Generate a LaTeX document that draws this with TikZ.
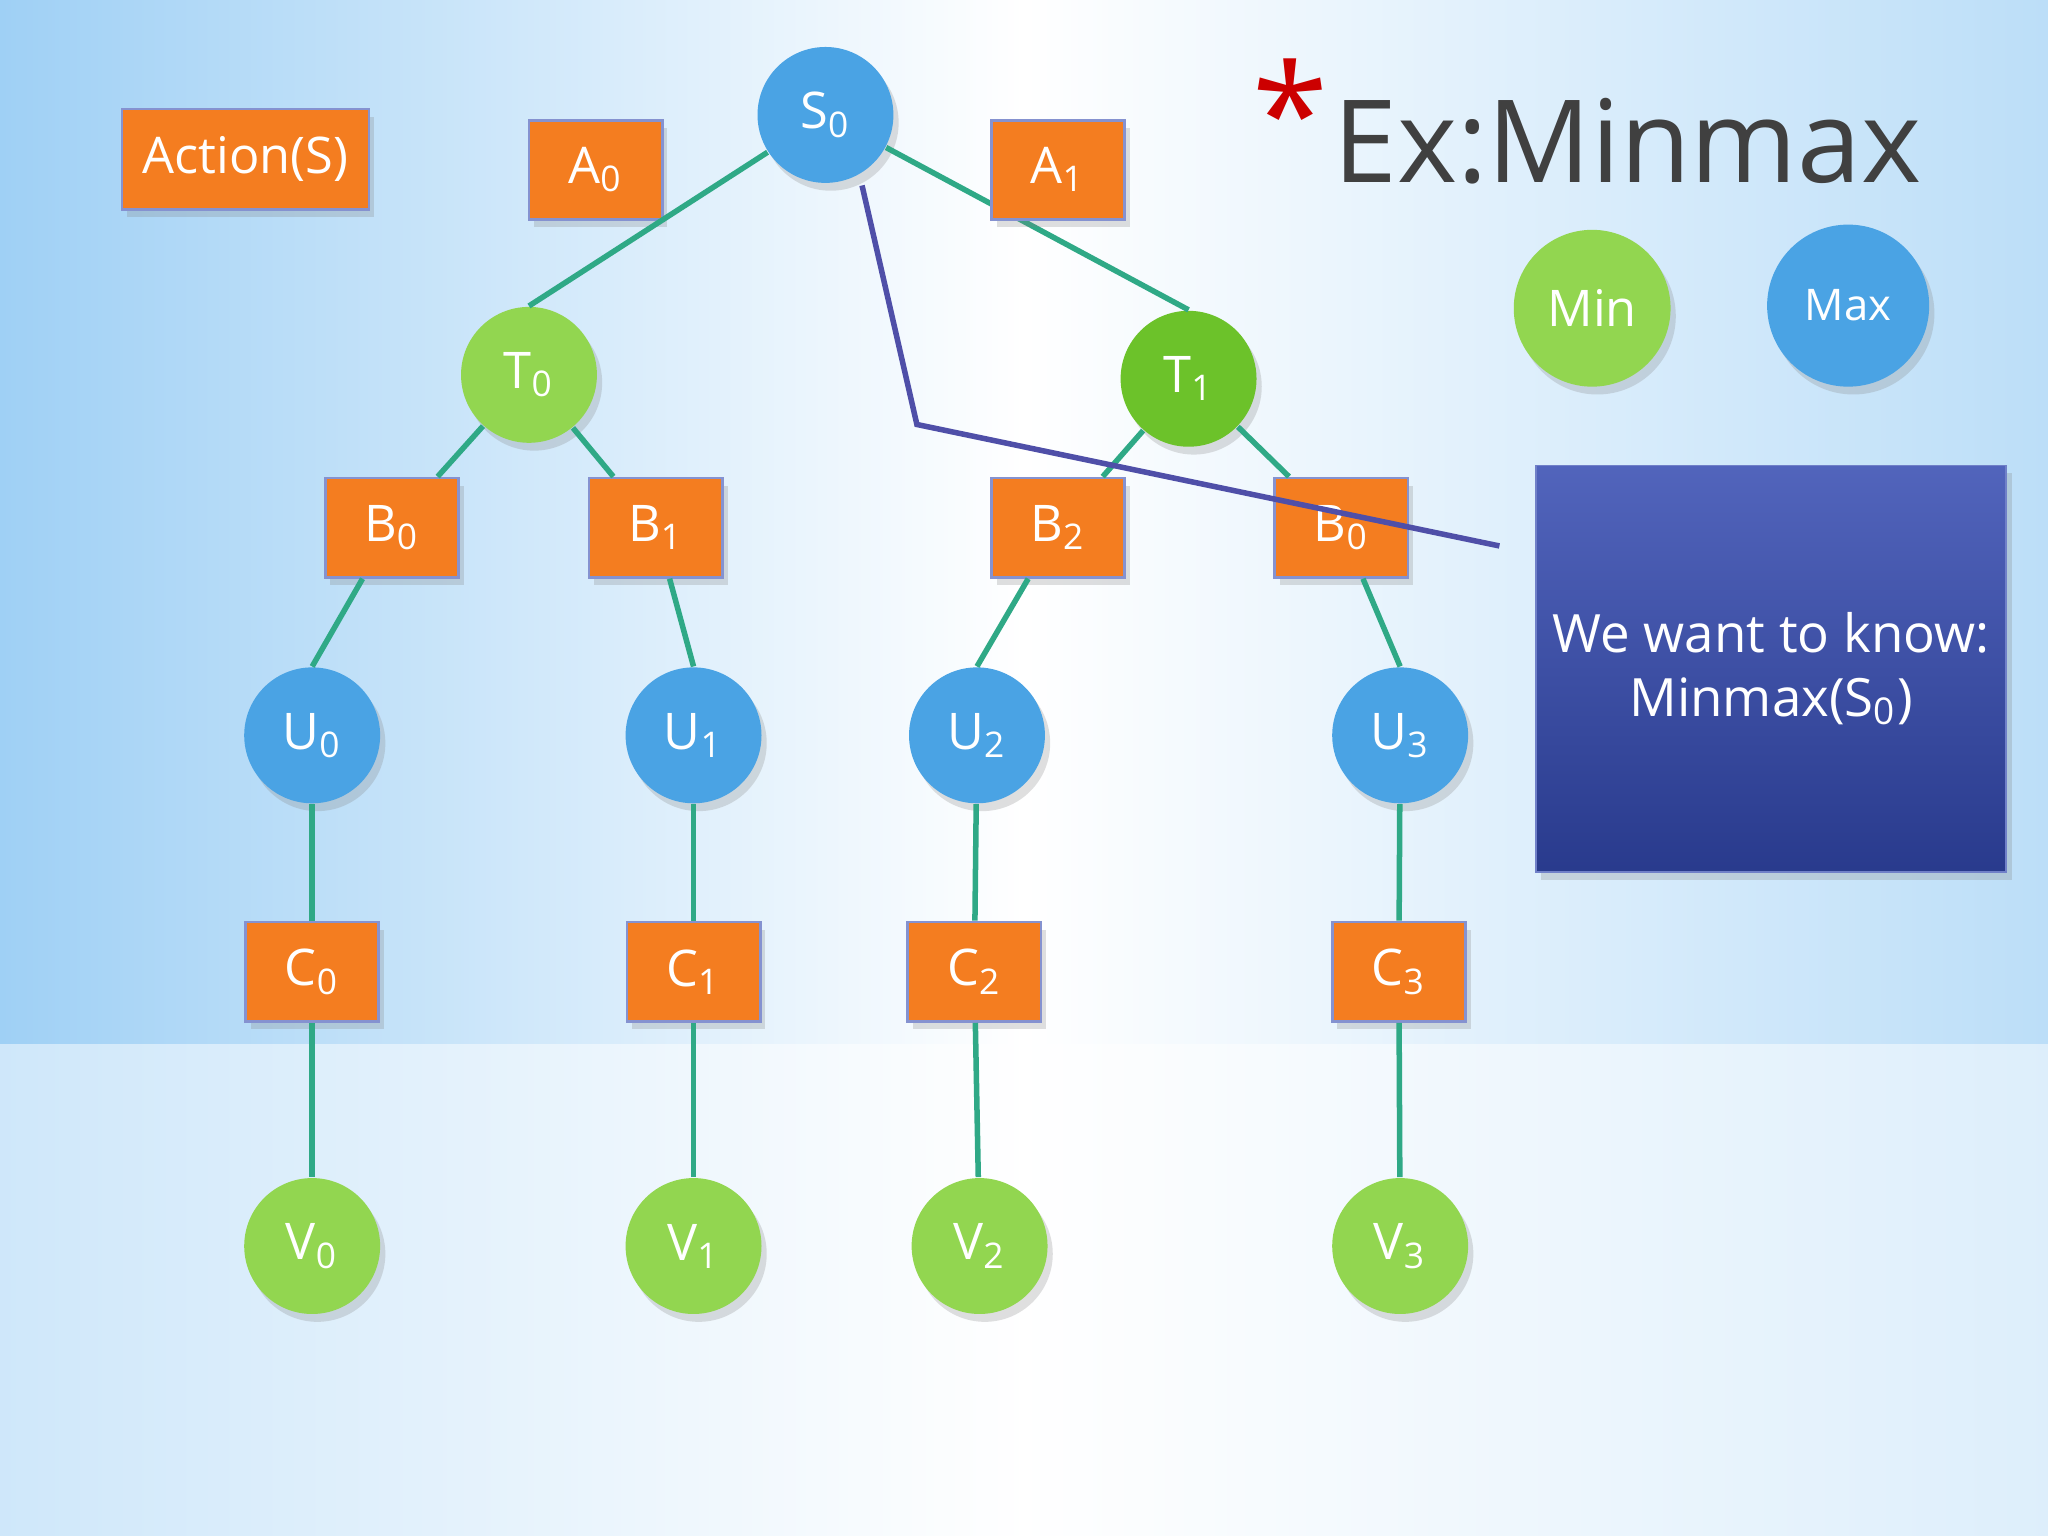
\documentclass[tikz,border=0pt]{standalone}
\usepackage{fontspec}
\setmainfont{Open Sans}
\usetikzlibrary{shadows}
\definecolor{bgblue}{HTML}{9FD0F5}
\definecolor{nblue}{HTML}{4AA3E4}
\definecolor{ngreen}{HTML}{92D650}
\definecolor{dgreen}{HTML}{6CC22A}
\definecolor{norange}{HTML}{F47D20}
\definecolor{edge}{HTML}{2FA986}
\definecolor{boxblue}{HTML}{3349B0}
\definecolor{pline}{HTML}{4F4FA8}
\tikzset{
  every node/.style={font=\fontsize{11pt}{13pt}\selectfont, text=white},
  shd/.style={drop shadow={opacity=0.25, shadow xshift=0.4mm, shadow yshift=-0.6mm}},
  maxn/.style={circle, fill=nblue, minimum size=1.04cm, inner sep=0pt, shd},
  minn/.style={circle, fill=ngreen, minimum size=1.04cm, inner sep=0pt, shd},
  act/.style={rectangle, fill=norange, draw=boxblue!60, line width=0.6pt, minimum width=1.02cm, minimum height=0.76cm, inner sep=0pt, shd},
  link/.style={draw=edge, line width=1.2pt}
}
\newcommand{\sbs}[1]{\textsubscript{#1}}
\begin{document}
\begin{tikzpicture}[x=0.01cm,y=-0.01cm]
\useasboundingbox (0,0) rectangle (1568,1176);
\shade[left color=bgblue, right color=bgblue!70, middle color=white] (0,0) rectangle (1568,1176);
\shade[top color=bgblue!0, bottom color=white, opacity=0.5] (0,800) rectangle (1568,1176);
% nodes
\node[maxn] (S0) at (632,88) {S\sbs{0}};
\node[act] (A0) at (456,130) {A\sbs{0}};
\node[act, minimum width=1.89cm, minimum height=0.77cm] (act) at (188,122) {Action(S)};
\node[minn] (T0) at (405,287) {T\sbs{0}};
\node[minn, fill=dgreen] (T1) at (910,290) {T\sbs{1}};
\node[act] (B0) at (300,404) {B\sbs{0}};
\node[act] (B1) at (502,404) {B\sbs{1}};
\node[act] (B2) at (810,404) {B\sbs{2}};
\node[act] (B3) at (1027,404) {B\sbs{0}};
\node[maxn] (U0) at (239,563) {U\sbs{0}};
\node[maxn] (U1) at (531,563) {U\sbs{1}};
\node[maxn] (U2) at (748,563) {U\sbs{2}};
\node[maxn] (U3) at (1072,563) {U\sbs{3}};
\node[act] (C0) at (239,744) {C\sbs{0}};
\node[act] (C1) at (531,744) {C\sbs{1}};
\node[act] (C2) at (746,744) {C\sbs{2}};
\node[act] (C3) at (1071,744) {C\sbs{3}};
\node[minn] (V0) at (239,954) {V\sbs{0}};
\node[minn] (V1) at (531,954) {V\sbs{1}};
\node[minn] (V2) at (750,954) {V\sbs{2}};
\node[minn] (V3) at (1072,954) {V\sbs{3}};
\node[minn, minimum size=1.2cm] (min) at (1219,236) {Min};
\node[maxn, minimum size=1.24cm, font=\fontsize{9.5pt}{11pt}\selectfont] (max) at (1415,234) {Max};
% edges
\path[link] (S0) -- (T0.north);
\path[link] (S0) -- (T1.north);
\path[link] (T0) -- (B0);
\path[link] (T0) -- (B1);
\path[link] (T1) -- (B2);
\path[link] (T1) -- (B3);
\path[link] (B0) -- (U0.north);
\path[link] (B1) -- (U1.north);
\path[link] (B2) -- (U2.north);
\path[link] (B3) -- (U3.north);
\path[link] (U0) -- (C0);
\path[link] (U1) -- (C1);
\path[link] (U2) -- (C2);
\path[link] (U3) -- (C3);
\path[link] (C0) -- (V0);
\path[link] (C1) -- (V1);
\path[link] (C2) -- (V2);
\path[link] (C3) -- (V3);
\node[act] (A1) at (810,130) {A\sbs{1}};
% callout
\node[rectangle, top color=boxblue!85!white, bottom color=boxblue!80!black, draw=boxblue!70, minimum width=3.6cm, minimum height=3.11cm, inner sep=0pt, align=center, shd, font=\fontsize{11.5pt}{14pt}\selectfont] (note) at (1356,512) {We want to know:\\Minmax(S\sbs{0})};
\coordinate (p1) at (660,142);
\coordinate (p2) at (702,325);
\coordinate (p3) at (1148,418);
\draw[pline, line width=1.2pt] (p1) -- (p2) -- (p3);
% title
\node[text=red!80!black, font=\fontsize{30pt}{30pt}\selectfont] (star) at (988,85) {*};
\node[text=black!75, font=\fontsize{25pt}{28pt}\selectfont, anchor=west, inner sep=0pt] (title) at (1020,108) {Ex:Minmax};
\end{tikzpicture}
\end{document}
